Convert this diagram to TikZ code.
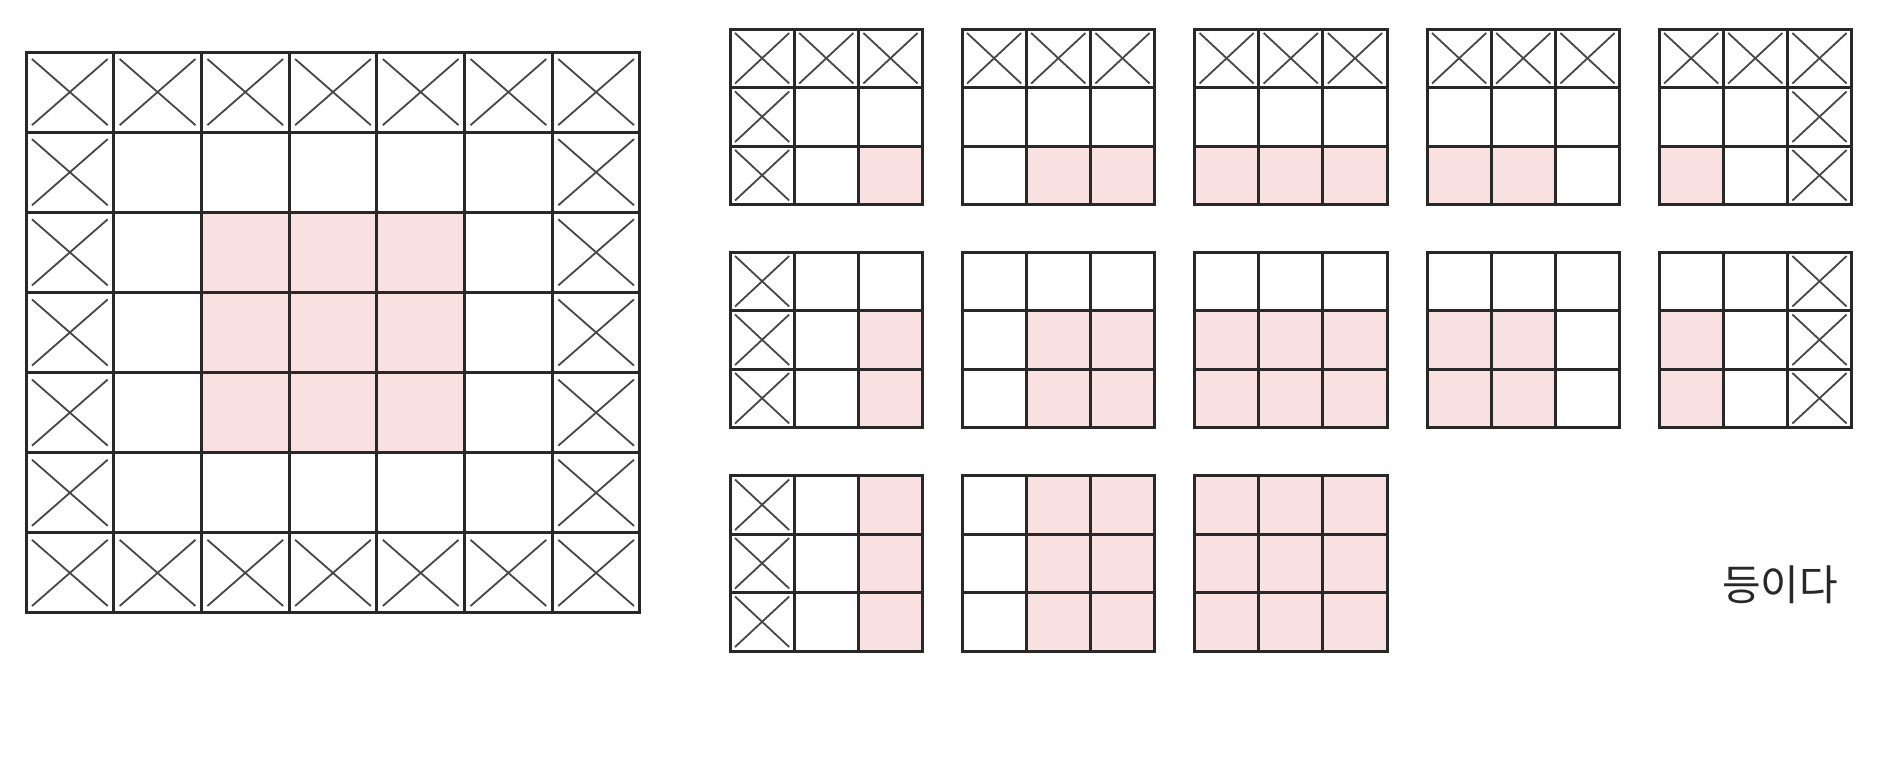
\documentclass[tikz,border=0pt]{standalone}
\usepackage{fontspec}
\newfontfamily\krfont{Noto Sans CJK KR}
\definecolor{cellpink}{RGB}{249,224,225}
\definecolor{gridline}{RGB}{40,40,40}
\definecolor{crossline}{RGB}{70,70,75}
\tikzset{
  gridstroke/.style={draw=gridline, line width=3pt},
  crossstroke/.style={draw=crossline, line width=1.8pt},
  pinkcell/.style={fill=cellpink},
  labeltext/.style={font=\krfont\fontsize{42}{42}\selectfont, text=gridline, inner sep=0pt}
}
% #1 x, #2 y (top-left), #3 pink cells r/c, #4 crossed cells r/c
\newcommand\mysmallgrid[4]{%
  \begin{scope}[shift={(#1,#2)}]
    \foreach \r/\c in {#3}
      \fill[pinkcell] ({(\c-1)*64.2},{(\r-1)*58.5}) rectangle ++(64.2,58.5);
    \foreach \r/\c in {#4} {
      \draw[crossstroke] ({(\c-1)*64.2+5},{(\r-1)*58.5+4}) -- ({\c*64.2-5},{\r*58.5-4});
      \draw[crossstroke] ({(\c-1)*64.2+5},{\r*58.5-4}) -- ({\c*64.2-5},{(\r-1)*58.5+4});
    }
    \foreach \i in {1,2} {
      \draw[gridstroke] ({\i*64.2},0) -- ({\i*64.2},175.5);
      \draw[gridstroke] (0,{\i*58.5}) -- (192.6,{\i*58.5});
    }
    \draw[gridstroke] (0,0) rectangle (192.6,175.5);
  \end{scope}}
\begin{document}
\begin{tikzpicture}[x=1pt,y=-1pt]
  \useasboundingbox[fill=white] (0,0) rectangle (1900,756);
  % big grid
  \begin{scope}[shift={(26,52)}]
    \def\cw{87.71}\def\ch{80.14}
    \fill[pinkcell] ({2*\cw},{2*\ch}) rectangle ({5*\cw},{5*\ch});
    \foreach \r/\c in {1/1,1/2,1/3,1/4,1/5,1/6,1/7,7/1,7/2,7/3,7/4,7/5,7/6,7/7,
                       2/1,3/1,4/1,5/1,6/1,2/7,3/7,4/7,5/7,6/7} {
      \draw[crossstroke] ({(\c-1)*\cw+6},{(\r-1)*\ch+7}) -- ({\c*\cw-6},{\r*\ch-7});
      \draw[crossstroke] ({(\c-1)*\cw+6},{\r*\ch-7}) -- ({\c*\cw-6},{(\r-1)*\ch+7});
    }
    \foreach \i in {1,...,6} {
      \draw[gridstroke] ({\i*\cw},0) -- ({\i*\cw},{7*\ch});
      \draw[gridstroke] (0,{\i*\ch}) -- ({7*\cw},{\i*\ch});
    }
    \draw[gridstroke] (0,0) rectangle ({7*\cw},{7*\ch});
  \end{scope}
  % row 1
  \mysmallgrid{730}{29}{3/3}{1/1,1/2,1/3,2/1,3/1}
  \mysmallgrid{962}{29}{3/2,3/3}{1/1,1/2,1/3}
  \mysmallgrid{1194.5}{29}{3/1,3/2,3/3}{1/1,1/2,1/3}
  \mysmallgrid{1427}{29}{3/1,3/2}{1/1,1/2,1/3}
  \mysmallgrid{1659}{29}{3/1}{1/1,1/2,1/3,2/3,3/3}
  % row 2
  \mysmallgrid{730}{252}{2/3,3/3}{1/1,2/1,3/1}
  \mysmallgrid{962}{252}{2/2,2/3,3/2,3/3}{}
  \mysmallgrid{1194.5}{252}{2/1,2/2,2/3,3/1,3/2,3/3}{}
  \mysmallgrid{1427}{252}{2/1,2/2,3/1,3/2}{}
  \mysmallgrid{1659}{252}{2/1,3/1}{1/3,2/3,3/3}
  % row 3
  \mysmallgrid{730}{475.5}{1/3,2/3,3/3}{1/1,2/1,3/1}
  \mysmallgrid{962}{475.5}{1/2,1/3,2/2,2/3,3/2,3/3}{}
  \mysmallgrid{1194.5}{475.5}{1/1,1/2,1/3,2/1,2/2,2/3,3/1,3/2,3/3}{}
  \node[labeltext] (label) at (1780,585) {등이다};
\end{tikzpicture}
\end{document}
